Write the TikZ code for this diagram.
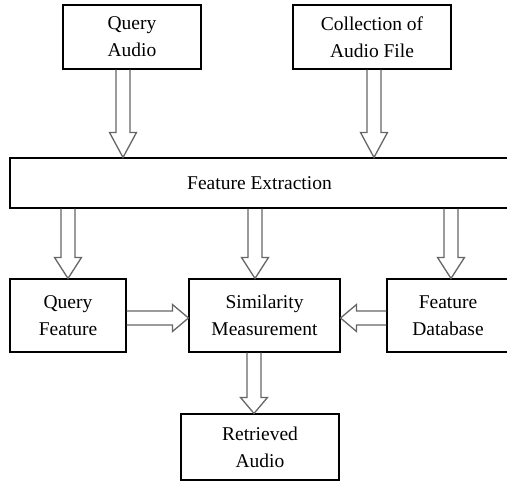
\documentclass[tikz,border=0pt]{standalone}
\usepackage{fontspec}
\setmainfont{Liberation Serif}
\usetikzlibrary{calc}

\tikzset{
  box/.style={draw, line width=1.1pt, inner sep=0pt, align=center,
              font=\fontsize{19.5}{27}\selectfont},
  blockarrow/.style={draw=black!60, line width=1.3pt, line join=miter}
}

% hollow block arrow: from, to, head length
\newcommand{\hollowarrow}[3]{%
  \coordinate (hb) at ($(#2)!#3pt!(#1)$);
  \draw[blockarrow] ($(#1)!7pt!90:(#2)$) -- ($(hb)!7pt!90:(#2)$)
    -- ($(hb)!13.5pt!90:(#2)$) -- (#2) -- ($(hb)!13.5pt!-90:(#2)$)
    -- ($(hb)!7pt!-90:(#2)$) -- ($(#1)!7pt!-90:(#2)$);
}

\begin{document}
\begin{tikzpicture}[x=1pt, y=-1pt]
  \path[use as bounding box, clip] (0,0) rectangle (507,481);

  % Inputs
  \node[box, minimum width=138pt, minimum height=64pt] (qa) at (132,37) {Query\\Audio};
  \node[box, minimum width=158pt, minimum height=64pt] (col) at (372,37) {Collection of\\Audio File};

  % Feature extraction
  \node[box, minimum width=499pt, minimum height=50pt] (fe) at (259.5,183) {Feature Extraction};

  % Second row
  \node[box, minimum width=116pt, minimum height=73pt] (qf) at (68,315.5) {Query\\Feature};
  \node[box, minimum width=151pt, minimum height=73pt] (sm) at (264.5,315.5) {Similarity\\Measurement};
  \node[box, minimum width=122pt, minimum height=73pt] (fd) at (448,315.5) {Feature\\Database};

  % Output
  \node[box, minimum width=158pt, minimum height=66pt] (ra) at (260,447) {Retrieved\\Audio};

  % Arrows into feature extraction
  \coordinate (qaout) at ($(qa.south)+(-9,0)$);
  \coordinate (fein1) at (qaout |- fe.north);
  \hollowarrow{qaout}{fein1}{25}
  \coordinate (colout) at ($(col.south)+(2,0)$);
  \coordinate (fein2) at (colout |- fe.north);
  \hollowarrow{colout}{fein2}{25}

  % Arrows out of feature extraction
  \coordinate (feout1) at (qf.north |- fe.south);
  \hollowarrow{feout1}{qf.north}{21}
  \coordinate (smin) at ($(sm.north)+(-9.5,0)$);
  \coordinate (feout2) at (smin |- fe.south);
  \hollowarrow{feout2}{smin}{21}
  \coordinate (fdin) at ($(fd.north)+(3,0)$);
  \coordinate (feout3) at (fdin |- fe.south);
  \hollowarrow{feout3}{fdin}{21}

  % Into similarity measurement
  \coordinate (qfout) at ($(qf.east)+(0,2.5)$);
  \coordinate (smleft) at (qfout -| sm.west);
  \hollowarrow{qfout}{smleft}{16}
  \coordinate (fdout) at ($(fd.west)+(0,2.5)$);
  \coordinate (smright) at (fdout -| sm.east);
  \hollowarrow{fdout}{smright}{16}

  % Result
  \coordinate (smout) at ($(sm.south)+(-10.5,0)$);
  \coordinate (rain) at (smout |- ra.north);
  \hollowarrow{smout}{rain}{16}
\end{tikzpicture}
\end{document}
